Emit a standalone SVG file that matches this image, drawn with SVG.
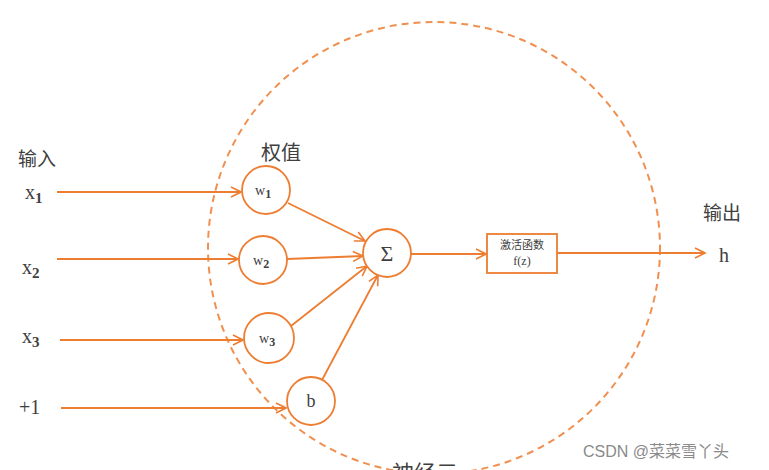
<svg xmlns="http://www.w3.org/2000/svg" width="769" height="470" viewBox="0 0 769 470">
<defs>
<marker id="arr" viewBox="0 0 12 12" refX="11" refY="6" markerWidth="12" markerHeight="12" markerUnits="userSpaceOnUse" orient="auto">
<path d="M1,1 L11,6 L1,11" fill="none" stroke="#ED7D31" stroke-width="1.6"/>
</marker>
<style>
.ln{stroke:#ED7D31;stroke-width:1.8;fill:none}
.nd{stroke:#ED7D31;stroke-width:1.8;fill:#fff}
.c{font-family:"Noto Sans CJK SC",sans-serif;fill:#404040}
.s{font-family:"Liberation Serif","DejaVu Serif",serif;fill:#404040}
</style>
</defs>
<rect width="769" height="470" fill="#fff"/>
<g id="neuron-boundary">
<circle cx="434" cy="248" r="226" fill="none" stroke="#ED7D31" stroke-opacity="0.85" stroke-width="2" stroke-dasharray="7,5"/>
<text class="c" x="392" y="481" font-size="22">神经元</text>
</g>
<g id="connectors">
<line class="ln" x1="57" y1="192" x2="241" y2="192" marker-end="url(#arr)"/>
<line class="ln" x1="57" y1="259" x2="238" y2="259" marker-end="url(#arr)"/>
<line class="ln" x1="60" y1="340" x2="243" y2="340" marker-end="url(#arr)"/>
<line class="ln" x1="61" y1="408" x2="286" y2="408" marker-end="url(#arr)"/>
<line class="ln" x1="288" y1="203" x2="365" y2="241" marker-end="url(#arr)"/>
<line class="ln" x1="287" y1="259" x2="363" y2="256" marker-end="url(#arr)"/>
<line class="ln" x1="291" y1="326" x2="367" y2="266" marker-end="url(#arr)"/>
<line class="ln" x1="322" y1="380" x2="378" y2="275" marker-end="url(#arr)"/>
<line class="ln" x1="411" y1="254" x2="486" y2="254" marker-end="url(#arr)"/>
<line class="ln" x1="557" y1="253" x2="705" y2="253" marker-end="url(#arr)"/>
</g>
<g id="labels">
<text class="c" x="18" y="166" font-size="19">输入</text>
<text class="s" x="25" y="199" font-size="20">x<tspan font-size="15" font-weight="bold" dy="4">1</tspan></text>
<text class="s" x="22" y="274" font-size="20">x<tspan font-size="15" font-weight="bold" dy="4">2</tspan></text>
<text class="s" x="22" y="343" font-size="20">x<tspan font-size="15" font-weight="bold" dy="4">3</tspan></text>
<text class="s" x="19" y="414" font-size="20">+1</text>
<text class="c" x="261" y="160" font-size="20">权值</text>
<text class="c" x="703" y="220" font-size="19">输出</text>
<text class="s" x="719" y="262" font-size="20">h</text>
</g>
<g id="w1"><circle class="nd" cx="266" cy="190" r="24"/><text class="s" x="255" y="195" font-size="14">w<tspan font-size="12" font-weight="bold" dy="3">1</tspan></text></g>
<g id="w2"><circle class="nd" cx="263" cy="260" r="24"/><text class="s" x="253" y="265" font-size="14">w<tspan font-size="12" font-weight="bold" dy="3">2</tspan></text></g>
<g id="w3"><circle class="nd" cx="269" cy="338" r="25"/><text class="s" x="259" y="343" font-size="14">w<tspan font-size="12" font-weight="bold" dy="3">3</tspan></text></g>
<g id="b"><circle class="nd" cx="311" cy="401" r="24"/><text class="s" x="311" y="407" font-size="18" text-anchor="middle">b</text></g>
<g id="sum"><circle class="nd" cx="387" cy="253" r="24"/><text class="s" x="387" y="261" font-size="22" text-anchor="middle">Σ</text></g>
<g id="activation"><rect class="nd" x="487" y="234" width="70" height="39"/>
<text class="c" x="522" y="249" font-size="11" text-anchor="middle">激活函数</text>
<text class="s" x="522" y="265" font-size="12" text-anchor="middle">f(z)</text></g>
<g id="watermark"><text x="583" y="457" font-family="'Liberation Sans','Noto Sans CJK SC',sans-serif" font-size="16" fill="#8a8a8a">CSDN @菜菜雪丫头</text></g>
</svg>
